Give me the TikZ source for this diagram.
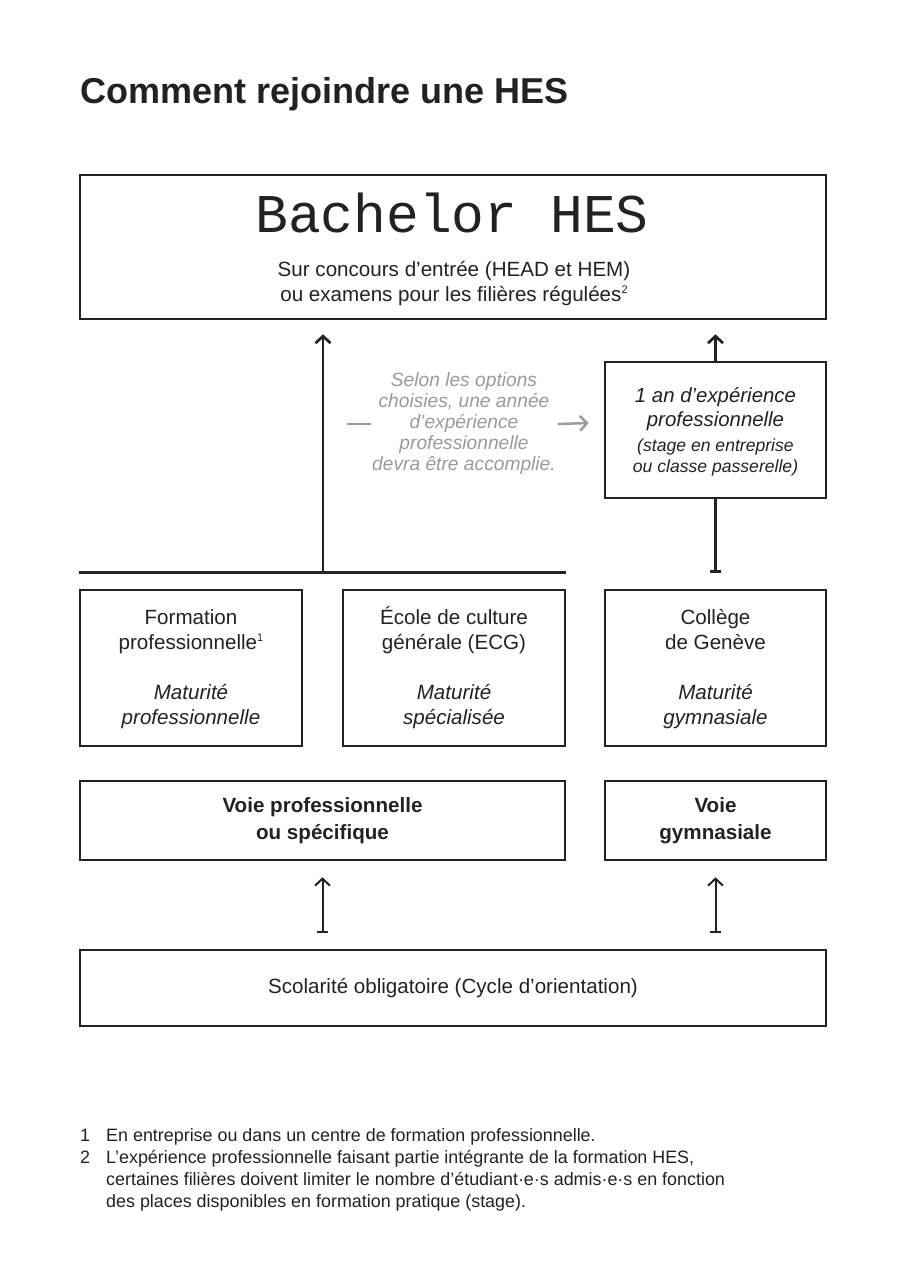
\documentclass[tikz,border=0pt]{standalone}
\usepackage{fontspec}
\setmainfont{Liberation Sans}
\newfontfamily\monofont{Liberation Mono}
\usetikzlibrary{arrows.meta,calc}
\definecolor{ink}{HTML}{222222}
\definecolor{greytxt}{HTML}{9A9A9A}
\newcommand{\fnmark}[1]{\raisebox{0.75ex}{\fontsize{11}{11}\selectfont #1}}
\begin{document}
\begin{tikzpicture}[x=1pt,y=-1pt,
  box/.style={draw=ink, line width=2.6pt, rectangle, inner sep=0pt, align=center,
    text=ink, font=\fontsize{20.6}{25}\selectfont},
  bbox/.style={box, font=\bfseries\fontsize{20.6}{27}\selectfont},
  txt/.style={inner sep=0pt, text=ink},
  conn/.style={draw=ink, line width=2.7pt},
  thinconn/.style={draw=ink, line width=2pt},
  tip/.style={-{Straight Barb[length=7pt,width=15pt]}},
  bartip/.style={{Bar[width=11pt]}-{Straight Barb[length=7pt,width=15pt]}}
]
\fill[white] (0,0) rectangle (905,1284);
\useasboundingbox (0,0) rectangle (905,1284);

% title
\node[txt, anchor=base west, font=\bfseries\fontsize{36}{40}\selectfont] (title) at (80,104) {Comment rejoindre une HES};

% Bachelor box
\node[box, minimum width=746, minimum height=144] (bach) at (453,247) {};
\node[txt, anchor=base, font=\monofont\fontsize{54.6}{60}\selectfont] (bachtitle) at (452,232) {Bachelor HES};
\node[txt, align=center, font=\fontsize{20.6}{25}\selectfont] (bachsub) at (454,284) {Sur concours d’entrée (HEAD et HEM)\\ou examens pour les filières régulées\fnmark{2}};

% experience box
\node[box, minimum width=221, minimum height=136, font=\itshape\fontsize{20.4}{24}\selectfont] (exp) at (715.5,430)
  {\vphantom{É}1 an d’expérience\\professionnelle\\[1pt]{\fontsize{17.6}{20}\selectfont (stage en entreprise}\\[-3pt]{\fontsize{17.6}{20}\selectfont ou classe passerelle)}};

% grey note
\node[txt, align=center, text=greytxt, font=\itshape\fontsize{19.2}{21}\selectfont] (note) at (464,424)
  {Selon les options\\choisies, une année\\d’expérience\\professionnelle\\devra être accomplie.};
\draw[draw=greytxt, line width=2.5pt] ($(note.west)+(-25,0)$) -- ($(note.west)+(-1,0)$);
\draw[draw=greytxt, line width=2.5pt, tip] ($(note.east)+(2,0)$) -- ($(exp.west)+(-15,-7)$);

% middle row
\node[box, minimum width=222, minimum height=156] (form) at (191,668)
  {\vphantom{É}Formation\\professionnelle\fnmark{1}\\[25pt]\textit{Maturité}\\\textit{professionnelle}};
\node[box, minimum width=222, minimum height=156] (ecg) at (454,668)
  {École de culture\\générale (ECG)\\[25pt]\textit{Maturité}\\\textit{spécialisée}};
\node[box, minimum width=221, minimum height=156] (coll) at (715.5,668)
  {\vphantom{É}Collège\\de Genève\\[25pt]\textit{Maturité}\\\textit{gymnasiale}};

% voie boxes
\node[bbox, minimum width=485, minimum height=79] (voieP) at (322.5,820.5) {Voie professionnelle\\ou spécifique};
\node[bbox, minimum width=221, minimum height=79] (voieG) at (715.5,820.5) {Voie\\gymnasiale};

% scolarite
\node[box, minimum width=746, minimum height=76] (scol) at (453,988) {Scolarité obligatoire (Cycle d’orientation)};

% connectors upper
\coordinate (hlL) at ($(form.north west)+(0,-16)$);
\coordinate (hlR) at ($(ecg.north east)+(0,-16)$);
\draw[conn, line width=3pt] (hlL) -- (hlR);
\coordinate (jL) at (323,0 |- hlL);
\draw[conn, tip] (jL) -- ($(jL |- bach.south)+(0,14)$);
\draw[conn, tip] (exp.north) -- ($(exp.north |- bach.south)+(0,14)$);
\draw[conn, -{Bar[width=11pt]}] (exp.south) -- (exp.south |- hlL);

% connectors lower
\draw[thinconn, bartip] ($(voieP.south |- scol.north)+(0,-16)$) -- ($(voieP.south)+(0,16)$);
\draw[thinconn, bartip] ($(voieG.south |- scol.north)+(0,-16)$) -- ($(voieG.south)+(0,16)$);

% footnotes
\node[txt, anchor=base west, font=\fontsize{17.9}{22}\selectfont] (fn1n) at (80,1141) {1};
\node[txt, anchor=base west, font=\fontsize{17.9}{22}\selectfont] (fn1) at (106,1141) {En entreprise ou dans un centre de formation professionnelle.};
\node[txt, anchor=base west, font=\fontsize{17.9}{22}\selectfont] (fn2n) at (80,1163) {2};
\node[txt, anchor=north west, align=left, font=\fontsize{17.9}{22}\selectfont] (fn2) at (106,1150)
  {L’expérience professionnelle faisant partie intégrante de la formation HES,\\certaines filières doivent limiter le nombre d’étudiant·e·s admis·e·s en fonction\\des places disponibles en formation pratique (stage).};
\end{tikzpicture}
\end{document}
